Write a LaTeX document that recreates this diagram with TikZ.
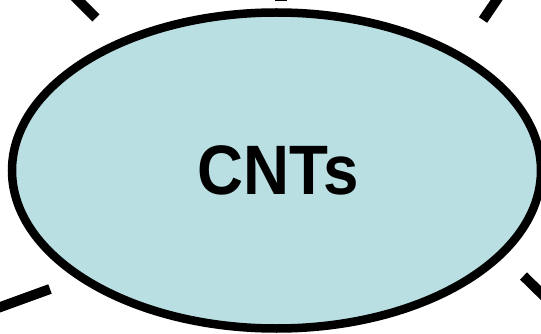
\documentclass[tikz,border=0pt]{standalone}
\usepackage{fontspec}
\setmainfont{Liberation Sans}
\usetikzlibrary{shapes.geometric}
\definecolor{cntfill}{RGB}{185,223,227}
\tikzset{
  hub/.style={ellipse, draw=black, line width=8.5pt, fill=cntfill,
    minimum width=529pt, minimum height=316pt, inner sep=0pt},
  hublabel/.style={font=\bfseries\fontsize{70}{70}\selectfont, xscale=0.91},
  spoke/.style={line width=10pt, draw=black}
}
\begin{document}
\begin{tikzpicture}[x=1pt, y=-1pt]
  \useasboundingbox (0,0) rectangle (541,334);
  % central ellipse
  \node[hub] (cnt) at (276.5,170.5) {};
  \node[hublabel] (lbl) at (278.5,170) {CNTs};
  % spoke end points
  \coordinate (tlA) at (96,18);   \coordinate (tlB) at (74,-4);
  \coordinate (tA)  at (281,1.5); \coordinate (tB)  at (281,-8);
  \coordinate (trA) at (483,20);  \coordinate (trB) at (500,-5);
  \coordinate (blA) at (50,289);  \coordinate (blB) at (-5,309);
  \coordinate (brA) at (523.5,276); \coordinate (brB) at (548,300);
  % spokes leaving the ellipse
  \draw[spoke] (tlA) -- (tlB);
  \draw[spoke, line width=12pt] (tA) -- (tB);
  \draw[spoke] (trA) -- (trB);
  \draw[spoke] (blA) -- (blB);
  \draw[spoke] (brA) -- (brB);
\end{tikzpicture}
\end{document}
